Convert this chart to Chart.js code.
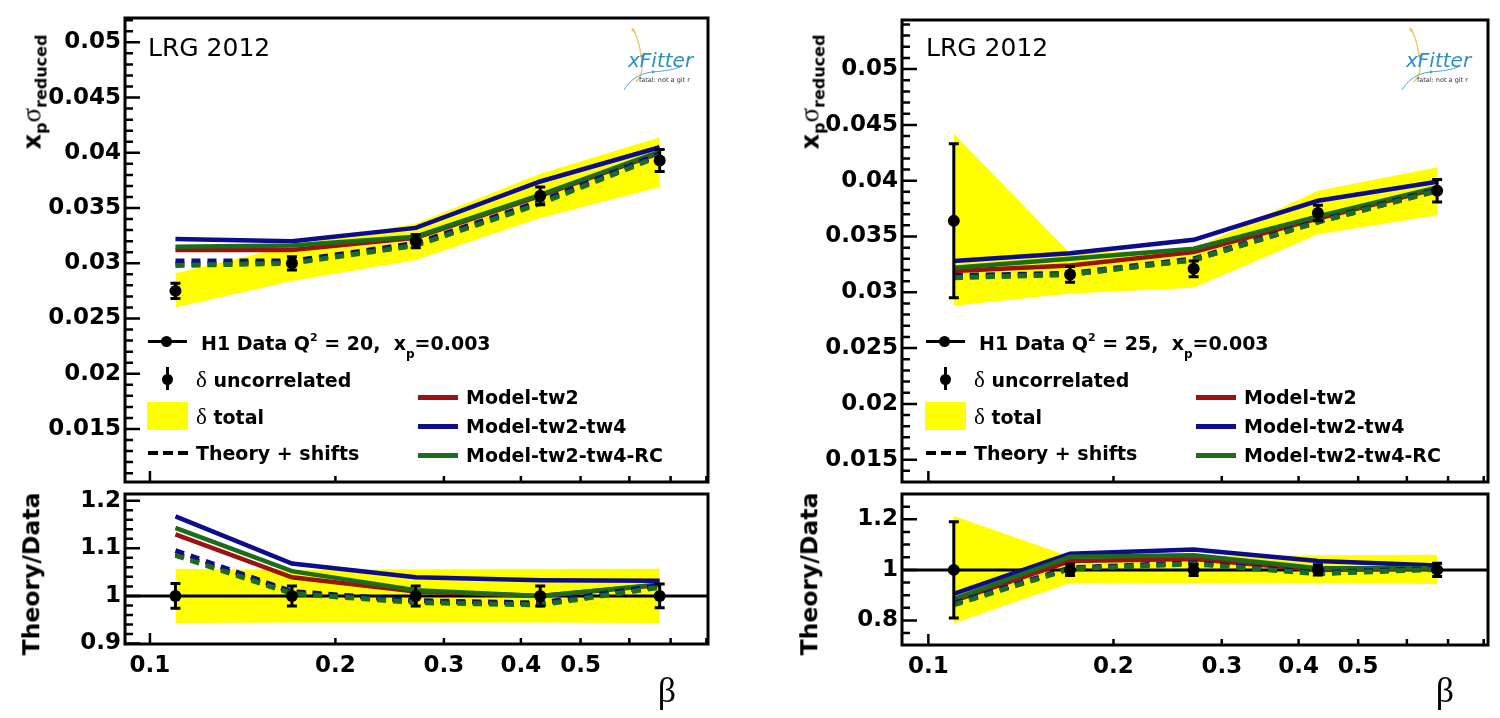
<!DOCTYPE html>
<html>
<head>
<meta charset="utf-8">
<title>LRG 2012 - reduced cross section vs beta</title>
<script src="https://cdn.jsdelivr.net/npm/chart.js@4.4.1/dist/chart.umd.min.js"></script>
<style>
  body { margin: 0; background: #fff; }
  #page { position: relative; width: 1500px; height: 718px; overflow: hidden; background: #fff;
          font-family: "DejaVu Sans", sans-serif; color: #000; }
  canvas { position: absolute; }
  .l, .c { position: absolute; white-space: nowrap; line-height: 1; z-index: 5; }
  .l { transform: translateY(-50%); }
  .c { transform: translate(-50%, -50%); }
  .rot { transform: translate(-50%, -50%) rotate(-90deg); }
  .b { font-weight: bold; }
  .g { position: absolute; z-index: 5; }
  .sym { font-family: "Liberation Serif", serif; font-weight: normal; font-size: 23px; }
  .sup { font-size: 11px; position: relative; top: -9px; }
  .sub { font-size: 12px; position: relative; top: 8px; }
</style>
</head>
<body>
<div id="page">
  <canvas id="leftMain" width="720" height="488" style="left:0;top:0"></canvas>
  <canvas id="leftRatio" width="720" height="230" style="left:0;top:488px"></canvas>
  <canvas id="rightMain" width="740" height="488" style="left:760px;top:0"></canvas>
  <canvas id="rightRatio" width="740" height="230" style="left:760px;top:488px"></canvas>
</div>
<script>
// Beta bins (same for both panels)
const beta = [0.11, 0.17, 0.27, 0.43, 0.672];
const betaLabels = [0.1, 0.2, 0.3, 0.4, 0.5];
const betaMinor = [0.2, 0.3, 0.4, 0.5, 0.6, 0.7, 0.8];

// ---- Q2 = 20 panel ----
const dataQ20 = [0.0275, 0.0300, 0.0320, 0.0361, 0.0393];
const uncorQ20 = [0.0007, 0.0006, 0.0006, 0.0008, 0.0010];
const totUpQ20 = [0.0291, 0.0316, 0.0336, 0.0381, 0.0414];
const totLoQ20 = [0.0260, 0.0284, 0.0303, 0.0341, 0.0369];
const tw2Q20 = [0.0312, 0.0312, 0.0323, 0.0361, 0.0400];
const tw4Q20 = [0.0322, 0.0320, 0.0332, 0.0374, 0.0405];
const rcQ20 = [0.0315, 0.0316, 0.0324, 0.0362, 0.0401];
const tw2ShQ20 = [0.0299, 0.0301, 0.0317, 0.0355, 0.0398];
const tw4ShQ20 = [0.0302, 0.0302, 0.0318, 0.0356, 0.0399];
const rcShQ20 = [0.0298, 0.0300, 0.0316, 0.0354, 0.0397];

const rUncorQ20 = [0.026, 0.021, 0.021, 0.021, 0.025];
const rTotUpQ20 = [1.057, 1.055, 1.056, 1.056, 1.057];
const rTotLoQ20 = [0.943, 0.944, 0.944, 0.944, 0.943];
const rTw2Q20 = [1.129, 1.039, 1.009, 1.000, 1.023];
const rTw4Q20 = [1.167, 1.068, 1.039, 1.033, 1.032];
const rRcQ20 = [1.143, 1.052, 1.012, 1.000, 1.024];
const rTw2ShQ20 = [1.089, 1.007, 0.988, 0.983, 1.020];
const rTw4ShQ20 = [1.095, 1.009, 0.990, 0.985, 1.022];
const rRcShQ20 = [1.085, 1.005, 0.986, 0.981, 1.018];

// ---- Q2 = 25 panel ----
const dataQ25 = [0.0364, 0.0316, 0.0321, 0.0371, 0.0391];
const uncorQ25 = [0.0069, 0.0007, 0.0007, 0.0007, 0.0010];
const totUpQ25 = [0.0442, 0.0335, 0.0339, 0.0391, 0.0412];
const totLoQ25 = [0.0288, 0.0299, 0.0304, 0.0352, 0.0369];
const tw2Q25 = [0.0319, 0.0324, 0.0336, 0.0366, 0.0393];
const tw4Q25 = [0.0328, 0.0335, 0.0347, 0.0382, 0.0399];
const rcQ25 = [0.0322, 0.0330, 0.0339, 0.0368, 0.0394];
const tw2ShQ25 = [0.0314, 0.0316, 0.0329, 0.0363, 0.0391];
const tw4ShQ25 = [0.0315, 0.0317, 0.0330, 0.0364, 0.0392];
const rcShQ25 = [0.0313, 0.0316, 0.0329, 0.0363, 0.0391];

const rUncorQ25 = [0.190, 0.022, 0.022, 0.020, 0.026];
const rTotUpQ25 = [1.213, 1.053, 1.055, 1.058, 1.060];
const rTotLoQ25 = [0.789, 0.948, 0.946, 0.948, 0.944];
const rTw2Q25 = [0.877, 1.035, 1.043, 1.000, 1.006];
const rTw4Q25 = [0.905, 1.064, 1.081, 1.035, 1.017];
const rRcQ25 = [0.884, 1.052, 1.058, 1.006, 1.006];
const rTw2ShQ25 = [0.865, 1.006, 1.026, 0.987, 1.004];
const rTw4ShQ25 = [0.868, 1.008, 1.028, 0.989, 1.006];
const rRcShQ25 = [0.862, 1.004, 1.024, 0.985, 1.002];

// Axis tick labels
const mainTicks = [0.015, 0.02, 0.025, 0.03, 0.035, 0.04, 0.045, 0.05];
const ratioTicksQ20 = [0.9, 1.0, 1.1, 1.2];
const ratioTicksQ25 = [0.8, 1.0, 1.2];

const YELLOW = "#ffff00";
const RED = "#9a1212";
const BLUE = "#0c0c8c";
const GREEN = "#1c6c1c";
const TICK_FONT = { family: "DejaVu Sans", size: 23, weight: "bold" };

Chart.defaults.font.family = "DejaVu Sans";
Chart.defaults.color = "#000";

function steps(from, to, step) {
    const out = [];
    for (let v = from; v <= to + step / 1000; v += step) out.push(Math.round(v * 10000) / 10000);
    return out;
}

function pts(vals) {
    return beta.map((b, i) => ({ x: b, y: vals[i] }));
}

function bandSets(up, lo) {
    return [
        { data: pts(up), borderWidth: 0, borderColor: "rgba(0,0,0,0)", pointRadius: 0, fill: false, order: 20 },
        { data: pts(lo), borderWidth: 0, borderColor: "rgba(0,0,0,0)", pointRadius: 0, fill: "-1",
          backgroundColor: YELLOW, order: 20 }
    ];
}

function lineSet(vals, color, dashed, order) {
    return {
        data: pts(vals), borderColor: color, borderWidth: dashed ? 5 : 4.5,
        borderDash: dashed ? [9, 7] : [], borderCapStyle: "butt",
        pointRadius: 0, fill: false, tension: 0, order: order
    };
}

function pointSet(vals) {
    return { data: pts(vals), showLine: false, pointRadius: 6, pointBackgroundColor: "#000",
             pointBorderWidth: 0, order: 0 };
}

// ROOT-like frame, inward ticks and error bars
const rootFrame = {
    id: "rootFrame",
    afterDatasetsDraw(chart, args, opts) {
        if (!opts.err) return;
        const { ctx, scales: { x, y } } = chart;
        ctx.save();
        ctx.strokeStyle = "#000";
        ctx.lineWidth = 3;
        opts.err.y.forEach((v, i) => {
            const px = x.getPixelForValue(beta[i]);
            const top = y.getPixelForValue(v + opts.err.e[i]);
            const bot = y.getPixelForValue(v - opts.err.e[i]);
            ctx.beginPath();
            ctx.moveTo(px, top); ctx.lineTo(px, bot);
            ctx.moveTo(px - 5, top); ctx.lineTo(px + 5, top);
            ctx.moveTo(px - 5, bot); ctx.lineTo(px + 5, bot);
            ctx.stroke();
        });
        ctx.restore();
    },
    afterDraw(chart, args, opts) {
        const { ctx, chartArea: a, scales: { x, y } } = chart;
        ctx.save();
        ctx.strokeStyle = "#000";
        ctx.lineWidth = 2.5;
        ctx.beginPath();
        (opts.yMinor || []).forEach(v => {
            if (v <= y.min || v >= y.max) return;
            const py = y.getPixelForValue(v);
            ctx.moveTo(a.left, py); ctx.lineTo(a.left + 8, py);
        });
        (opts.yMajor || []).forEach(v => {
            const py = y.getPixelForValue(v);
            ctx.moveTo(a.left, py); ctx.lineTo(a.left + 15, py);
        });
        const p1 = x.getPixelForValue(0.1);
        ctx.moveTo(p1, a.bottom); ctx.lineTo(p1, a.bottom - 11);
        betaMinor.forEach(v => {
            const px = x.getPixelForValue(v);
            if (px >= a.right - 1) return;
            ctx.moveTo(px, a.bottom); ctx.lineTo(px, a.bottom - 6);
        });
        ctx.stroke();
        ctx.lineWidth = 3;
        ctx.strokeRect(a.left, a.top, a.right - a.left, a.bottom - a.top);
        ctx.restore();
    }
};

function makeChart(id, p) {
    const ctx = document.getElementById(id).getContext("2d");
    return new Chart(ctx, {
        type: "line",
        data: { datasets: p.datasets },
        options: {
            responsive: false,
            animation: false,
            devicePixelRatio: 1,
            events: [],
            layout: { padding: { left: 0, right: 12, top: p.top, bottom: 0 } },
            plugins: {
                legend: { display: false },
                tooltip: { enabled: false },
                rootFrame: { yMajor: p.yTicks, yMinor: p.yMinor, err: p.err }
            },
            scales: {
                x: {
                    type: "logarithmic",
                    min: p.xMin, max: p.xMax,
                    grid: { display: false, drawTicks: false },
                    border: { display: false },
                    ticks: {
                        display: p.xLabels, font: TICK_FONT, color: "#000", padding: 8,
                        autoSkip: false, maxRotation: 0,
                        callback: v => String(v)
                    },
                    afterBuildTicks: s => { s.ticks = betaLabels.map(v => ({ value: v })); },
                    afterFit: s => { s.height = p.xHeight; s.paddingLeft = 0; s.paddingRight = 0; }
                },
                y: {
                    type: "linear",
                    min: p.yMin, max: p.yMax,
                    grid: { display: false, drawTicks: false },
                    border: { display: false },
                    ticks: {
                        font: TICK_FONT, color: "#000", padding: 4,
                        callback: v => String(Number(v.toFixed(4)))
                    },
                    afterBuildTicks: s => { s.ticks = p.yTicks.map(v => ({ value: v })); },
                    afterFit: s => { s.width = p.yWidth; s.paddingTop = 0; s.paddingBottom = 0; }
                }
            }
        },
        plugins: [rootFrame]
    });
}

function panelDatasets(d) {
    return [
        ...bandSets(d.up, d.lo),
        lineSet(d.tw2, RED, false, 6),
        lineSet(d.tw4, BLUE, false, 5),
        lineSet(d.rc, GREEN, false, 4),
        lineSet(d.tw2Sh, RED, true, 3),
        lineSet(d.tw4Sh, BLUE, true, 2),
        lineSet(d.rcSh, GREEN, true, 1),
        pointSet(d.data)
    ];
}

function unityLine(xMin, xMax) {
    return { data: [{ x: xMin, y: 1 }, { x: xMax, y: 1 }], borderColor: "#000", borderWidth: 3,
             pointRadius: 0, fill: false, order: 15 };
}

// Left panel, Q2 = 20
makeChart("leftMain", {
    top: 18, xHeight: 2, yWidth: 125, xMin: 0.0911, xMax: 0.805, yMin: 0.0102, yMax: 0.0522,
    xLabels: false, yTicks: mainTicks, yMinor: steps(0.011, 0.052, 0.001),
    err: { y: dataQ20, e: uncorQ20 },
    datasets: panelDatasets({ up: totUpQ20, lo: totLoQ20, tw2: tw2Q20, tw4: tw4Q20, rc: rcQ20,
        tw2Sh: tw2ShQ20, tw4Sh: tw4ShQ20, rcSh: rcShQ20, data: dataQ20 })
});
makeChart("leftRatio", {
    top: 2, xHeight: 74, yWidth: 125, xMin: 0.0911, xMax: 0.805, yMin: 0.899, yMax: 1.214,
    xLabels: true, yTicks: ratioTicksQ20, yMinor: steps(0.9, 1.2, 0.02),
    err: { y: [1, 1, 1, 1, 1], e: rUncorQ20 },
    datasets: [unityLine(0.0911, 0.805), ...panelDatasets({ up: rTotUpQ20, lo: rTotLoQ20, tw2: rTw2Q20,
        tw4: rTw4Q20, rc: rRcQ20, tw2Sh: rTw2ShQ20, tw4Sh: rTw4ShQ20, rcSh: rRcShQ20, data: [1, 1, 1, 1, 1] })]
});

// Right panel, Q2 = 25
makeChart("rightMain", {
    top: 20, xHeight: 3, yWidth: 142, xMin: 0.0906, xMax: 0.813, yMin: 0.0130, yMax: 0.0544,
    xLabels: false, yTicks: mainTicks, yMinor: steps(0.014, 0.054, 0.001),
    err: { y: dataQ25, e: uncorQ25 },
    datasets: panelDatasets({ up: totUpQ25, lo: totLoQ25, tw2: tw2Q25, tw4: tw4Q25, rc: rcQ25,
        tw2Sh: tw2ShQ25, tw4Sh: tw4ShQ25, rcSh: rcShQ25, data: dataQ25 })
});
makeChart("rightRatio", {
    top: 3, xHeight: 73, yWidth: 142, xMin: 0.0906, xMax: 0.813, yMin: 0.703, yMax: 1.30,
    xLabels: true, yTicks: ratioTicksQ25, yMinor: steps(0.75, 1.25, 0.05),
    err: { y: [1, 1, 1, 1, 1], e: rUncorQ25 },
    datasets: [unityLine(0.0906, 0.813), ...panelDatasets({ up: rTotUpQ25, lo: rTotLoQ25, tw2: rTw2Q25,
        tw4: rTw4Q25, rc: rRcQ25, tw2Sh: rTw2ShQ25, tw4Sh: rTw4ShQ25, rcSh: rRcShQ25, data: [1, 1, 1, 1, 1] })]
});

// Titles, legend and labels drawn as HTML text on top of the canvases
function overlay(dx, q2) {
    const html = `
    <div class="l" style="left:${148 + dx}px;top:47px;font-size:25px">LRG 2012</div>
    <svg class="g" style="left:${612 + dx}px;top:26px" width="90" height="66" viewBox="0 0 90 66">
      <path d="M20 2 C26 10 28 22 30 36 C31 44 30 50 24 56" stroke="#e8c860" stroke-width="1.3" fill="none"/>
      <path d="M12 64 C18 54 26 48 40 46 C52 45 62 44 70 40" stroke="#4aa6d6" stroke-width="1" fill="none"/>
      <circle cx="21" cy="4" r="1.6" fill="#e8c860"/><circle cx="30" cy="30" r="1.5" fill="#4aa6d6"/>
      <circle cx="41" cy="46" r="1.4" fill="#4aa6d6"/>
    </svg>
    <div class="l" style="left:${628 + dx}px;top:60px;font-size:20px;font-style:italic;color:#2a8ec8">xFitter</div>
    <div class="l" style="left:${639 + dx}px;top:80px;font-size:6.5px;color:#333">fatal: not a git r</div>

    <div class="c rot b" style="left:${32 + dx}px;top:92px;font-size:24px">x<span style="font-size:16px;position:relative;top:6px">p</span><span style="font-family:'Liberation Serif',serif;font-weight:normal;font-size:27px">σ</span><span style="font-size:16px;position:relative;top:6px">reduced</span></div>
    <div class="c rot b" style="left:${32 + dx}px;top:574px;font-size:23.5px">Theory/Data</div>
    <div class="c" style="left:${667 + dx}px;top:690px;font-family:'Liberation Serif',serif;font-size:36px">β</div>

    <div class="g" style="left:${148 + dx}px;top:340px;width:39px;height:3px;background:#000"></div>
    <div class="g" style="left:${161 + dx}px;top:336px;width:11px;height:11px;border-radius:50%;background:#000"></div>
    <div class="l b" style="left:${201 + dx}px;top:343px;font-size:19px">H1 Data Q<span class="sup">2</span> = ${q2},&nbsp; x<span class="sub">p</span>=0.003</div>

    <div class="g" style="left:${165.5 + dx}px;top:367px;width:3px;height:23px;background:#000"></div>
    <div class="g" style="left:${161.5 + dx}px;top:373.5px;width:11px;height:11px;border-radius:50%;background:#000"></div>
    <div class="l b" style="left:${196 + dx}px;top:379px;font-size:19px"><span class="sym">δ</span> uncorrelated</div>

    <div class="g" style="left:${147 + dx}px;top:402px;width:41px;height:28px;background:${YELLOW}"></div>
    <div class="l b" style="left:${196 + dx}px;top:416px;font-size:19px"><span class="sym">δ</span> total</div>

    <div class="g" style="left:${148 + dx}px;top:451px;width:40px;height:4px;background:repeating-linear-gradient(90deg,#000 0 10px,transparent 10px 15px)"></div>
    <div class="l b" style="left:${196 + dx}px;top:453px;font-size:19px">Theory + shifts</div>

    <div class="g" style="left:${418 + dx}px;top:394.5px;width:40px;height:5px;background:${RED}"></div>
    <div class="l b" style="left:${466 + dx}px;top:397px;font-size:19px">Model-tw2</div>
    <div class="g" style="left:${418 + dx}px;top:423.5px;width:40px;height:5px;background:${BLUE}"></div>
    <div class="l b" style="left:${466 + dx}px;top:426px;font-size:19px">Model-tw2-tw4</div>
    <div class="g" style="left:${418 + dx}px;top:452.5px;width:40px;height:5px;background:${GREEN}"></div>
    <div class="l b" style="left:${466 + dx}px;top:455px;font-size:19px">Model-tw2-tw4-RC</div>`;
    document.getElementById("page").insertAdjacentHTML("beforeend", html);
}

overlay(0, 20);
overlay(778, 25);
</script>
</body>
</html>
